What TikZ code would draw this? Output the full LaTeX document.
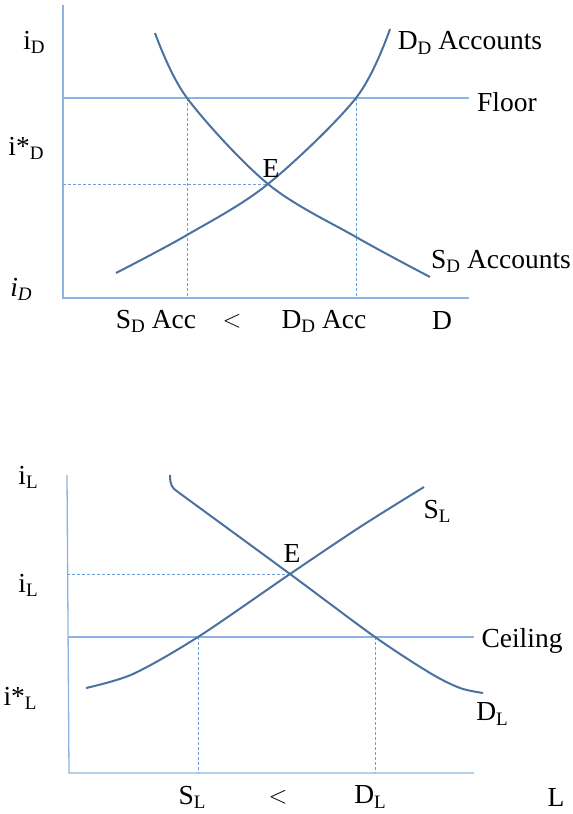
\documentclass[tikz,border=0pt]{standalone}
\usepackage{fontspec}
\setmainfont{Liberation Serif}
\newcommand\sbs[1]{\raisebox{-0.15em}{\fontsize{19}{19}\selectfont #1}}
\definecolor{axisblue}{HTML}{8DB3E2}
\definecolor{curveblue}{HTML}{4A72A0}
\definecolor{dashblue}{HTML}{6A9FE0}
\begin{document}
\begin{tikzpicture}[x=1pt,y=-1pt,
  axisline/.style={draw=axisblue,line width=1.3pt},
  guide/.style={draw=dashblue,line width=0.9pt,dash pattern=on 3pt off 2pt},
  curve/.style={draw=curveblue,line width=2pt},
  lbl/.style={inner sep=0pt,font=\fontsize{27.5}{30}\selectfont}]
\useasboundingbox (0,0) rectangle (573,814);
% ---------- top chart ----------
\coordinate (ta) at (63,5);
\coordinate (to) at (63,298);
\coordinate (tx) at (469,298);
\coordinate (fl0) at (63,98);
\coordinate (fl1) at (469,98);
\coordinate (E1) at (268,184);
\coordinate (p1) at (187,98);
\coordinate (p2) at (356,98);
\draw[axisline] (ta) -- (to) -- (tx);
\draw[axisline] (fl0) -- (fl1);
\draw[guide] (63,184) -- (E1);
\draw[guide] (p1) -- (p1 |- to);
\draw[guide] (p2) -- (p2 |- to);
\draw[curve] plot[smooth,tension=0.55] coordinates {(155,33) (187,98) (268,184) (356,237) (430,277)};
\draw[curve] plot[smooth,tension=0.55] coordinates {(116,273) (187,235) (268,184) (356,98) (390,29)};
\node[lbl] (iD) at (34,42) {i\sbs{D}};
\node[lbl] (isD) at (26,148) {i*\sbs{D}};
\node[lbl] (iDit) at (21,289) {\itshape i\sbs{D}};
\node[lbl] (e1) at (271,168) {E};
\node[lbl] (dda) at (470,43) {D\sbs{D} Accounts};
\node[lbl] (flr) at (507,102) {Floor};
\node[lbl] (sda) at (501,261) {S\sbs{D} Accounts};
\node[lbl] (sdacc) at (156,321) {S\sbs{D} Acc};
\node[lbl] (lt1) at (232,321) {$<$};
\node[lbl] (ddacc) at (324,321) {D\sbs{D} Acc};
\node[lbl] (dax) at (442,321) {D};
% ---------- bottom chart ----------
\coordinate (ba) at (67,475);
\coordinate (bo) at (69,773);
\coordinate (bx) at (474,773);
\coordinate (c0) at (68,637);
\coordinate (c1) at (474,637);
\coordinate (E2) at (290,574);
\coordinate (q1) at (198,637);
\coordinate (q2) at (375,637);
\draw[axisline] (ba) -- (bo) -- (bx);
\draw[axisline] (c0) -- (c1);
\draw[guide] (67,574) -- (E2);
\draw[guide] (q1) -- (q1 |- bo);
\draw[guide] (q2) -- (q2 |- bo);
\draw[curve] plot[smooth,tension=0.5] coordinates {(86,688) (133,674) (198,637) (290,574) (360,527) (424,487)};
\draw[curve] (170,475) .. controls (170,485) and (172,488) .. (178,492);
\draw[curve] plot[smooth,tension=0.5] coordinates {(178,492) (290,574) (375,637) (430,673) (460,688) (483,693)};
\node[lbl] (iL1) at (28,477) {i\sbs{L}};
\node[lbl] (iL2) at (28,585) {i\sbs{L}};
\node[lbl] (isL) at (20,698) {i*\sbs{L}};
\node[lbl] (e2) at (292,553) {E};
\node[lbl] (slb) at (437,511) {S\sbs{L}};
\node[lbl] (ceil) at (522,641) {Ceiling};
\node[lbl] (dlb) at (492,714) {D\sbs{L}};
\node[lbl] (slx) at (192,797) {S\sbs{L}};
\node[lbl] (lt2) at (278,797) {$<$};
\node[lbl] (dlx) at (370,797) {D\sbs{L}};
\node[lbl] (lx) at (556,797) {L};
\end{tikzpicture}
\end{document}
